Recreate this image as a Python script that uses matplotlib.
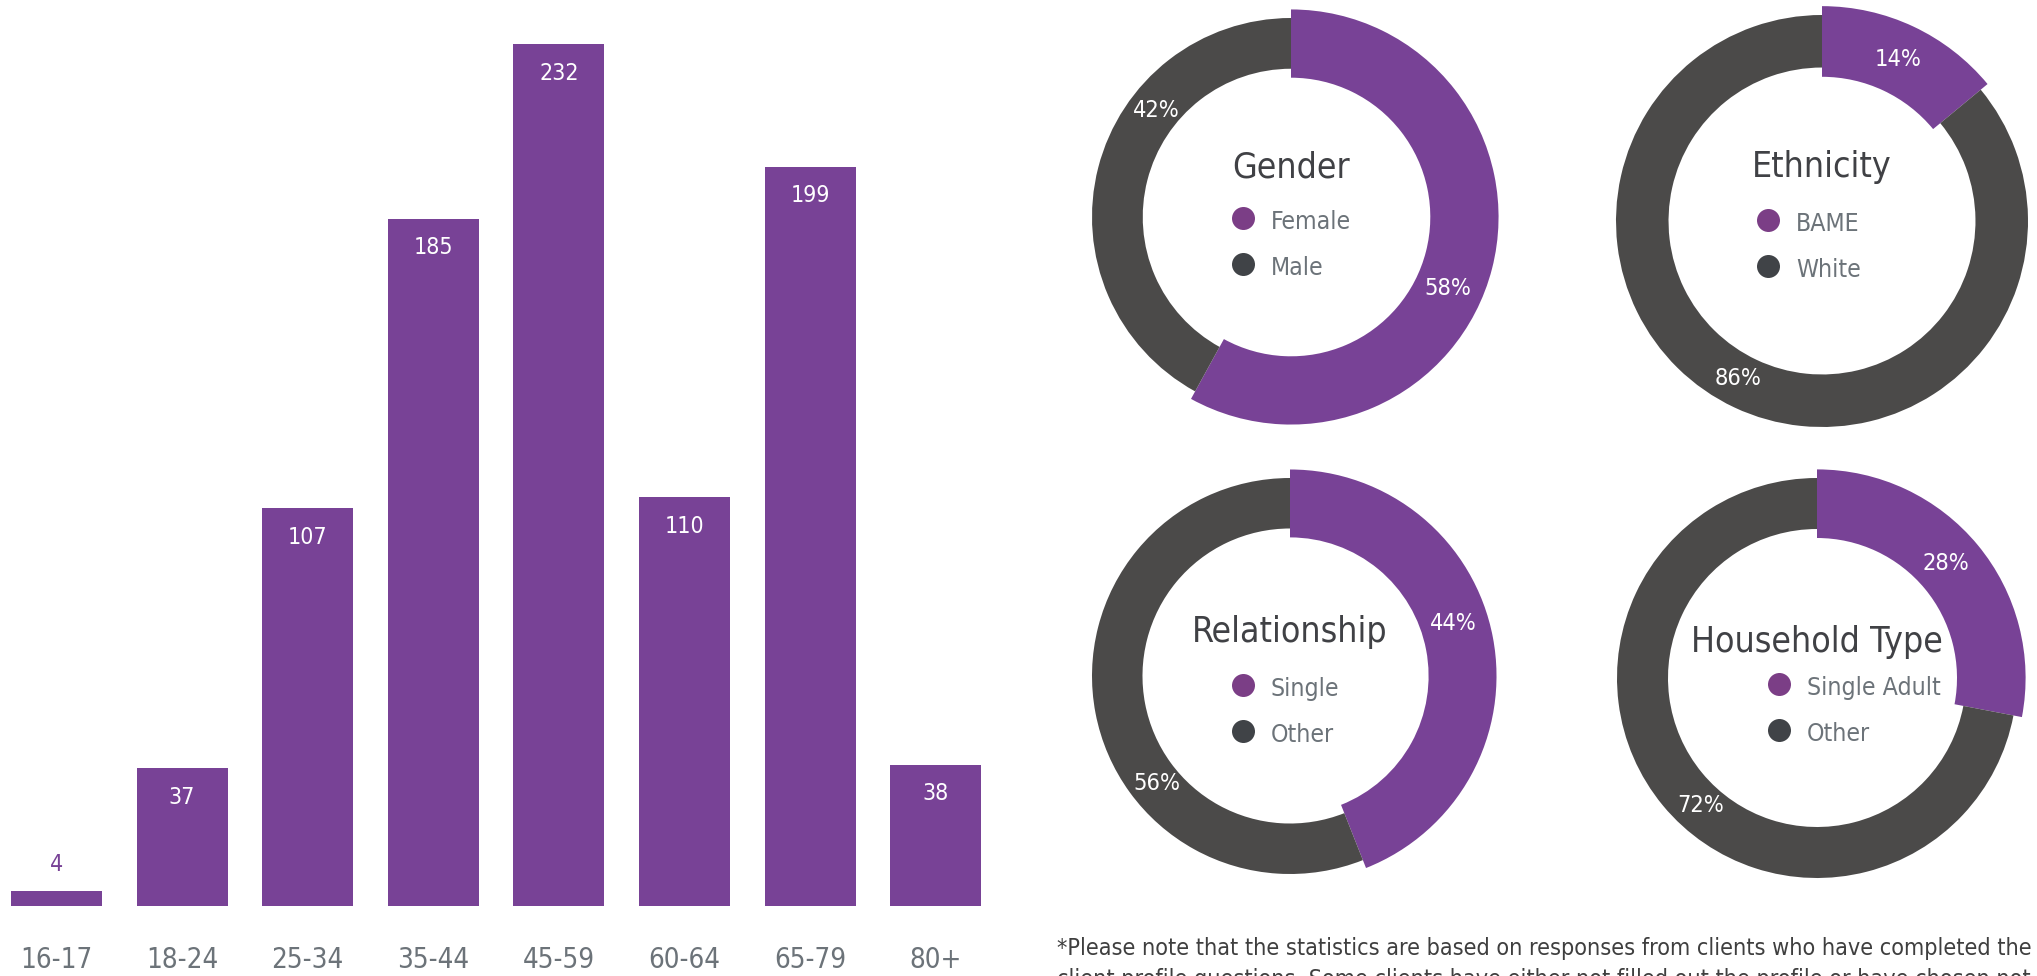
import matplotlib
matplotlib.use("Agg")
import matplotlib.pyplot as plt
import numpy as np

# ---- data -------------------------------------------------------------
age_groups = ["16-17", "18-24", "25-34", "35-44", "45-59", "60-64", "65-79", "80+"]
age_counts = [4, 37, 107, 185, 232, 110, 199, 38]

gender_labels = ["Female", "Male"]
gender_pct = [58, 42]
ethnicity_labels = ["BAME", "White"]
ethnicity_pct = [14, 86]
relationship_labels = ["Single", "Other"]
relationship_pct = [44, 56]
household_labels = ["Single Adult", "Other"]
household_pct = [28, 72]

note_lines = [
    "*Please note that the statistics are based on responses from clients who have completed the",
    "client profile questions. Some clients have either not filled out the profile or have chosen not",
]

# ---- styling ----------------------------------------------------------
W, H, DPI = 2037, 976, 100
PURPLE = "#784296"
RING_GREY = "#4b4a49"
KEY_PURPLE = "#7b3e86"
KEY_DARK = "#404347"
TITLE_COLOR = "#404145"
KEY_TEXT = "#6c7379"
TICK_COLOR = "#6c7379"
NOTE_COLOR = "#3f3f3f"

plt.rcParams["font.family"] = ["DejaVu Sans"]
plt.rcParams["font.stretch"] = "condensed"


def pt(pixels):
    """Convert a pixel length to points at the figure dpi."""
    return pixels * 72.0 / DPI


def fig_box(left, top, width, height):
    """Axes rectangle from pixel coordinates measured from the top-left."""
    return [left / W, 1 - (top + height) / H, width / W, height / H]


fig = plt.figure(figsize=(W / DPI, H / DPI), dpi=DPI)
fig.patch.set_facecolor("white")

# ---- age bar chart ----------------------------------------------------
base_px = 905.7          # pixel row of the bar baseline
px_per_unit = 3.714      # vertical scale
pitch = 125.6            # distance between bar centres
first_center = 56.5
bar_px = 91

ax = fig.add_axes(fig_box(0, 0, 1000, base_px))
x = np.arange(len(age_groups))
ax.bar(x, age_counts, width=bar_px / pitch, color=PURPLE, linewidth=0)
ax.set_xlim(-first_center / pitch, (1000 - first_center) / pitch)
ax.set_ylim(0, base_px / px_per_unit)
for s in ax.spines.values():
    s.set_visible(False)
ax.set_yticks([])
ax.set_xticks(x, age_groups)
ax.tick_params(axis="x", length=0, pad=pt(40), labelsize=pt(27.6),
               labelcolor=TICK_COLOR)
ax.set_facecolor("none")

for xi, v in zip(x, age_counts):
    if v >= 10:
        ax.annotate(str(v), (xi, v), xytext=(0, -pt(29)), textcoords="offset points",
                    ha="center", va="center", color="white", fontsize=pt(23))
    else:
        ax.annotate(str(v), (xi, v), xytext=(0, pt(26)), textcoords="offset points",
                    ha="center", va="center", color=PURPLE, fontsize=pt(23))

# ---- donut charts -----------------------------------------------------
donuts = [
    ("Gender", gender_labels, gender_pct,
     dict(c=(1291, 217), R=199, title_dy=-40, key_dx=-48, key_dy=1, shift=(10, 24))),
    ("Ethnicity", ethnicity_labels, ethnicity_pct,
     dict(c=(1822, 221), R=206, title_dy=-44, key_dx=-54, key_dy=-1, shift=(0, 3))),
    ("Relationship", relationship_labels, relationship_pct,
     dict(c=(1290, 676), R=198, title_dy=-34, key_dx=-47, key_dy=9, shift=(-7, -28))),
    ("Household Type", household_labels, household_pct,
     dict(c=(1817, 678), R=200, title_dy=-26, key_dx=-38, key_dy=6, shift=(-2, -8))),
]

HALF = 235
INNER = 0.745           # inner radius of the grey ring, relative to R
HI_OUT, HI_IN = 1.043, 0.70   # highlighted slice radii, relative to R
KEY_GAP = 46

for title, labels, pct, lay in donuts:
    cx, cy = lay["c"]
    R = lay["R"]
    axd = fig.add_axes(fig_box(cx - HALF, cy - HALF, 2 * HALF, 2 * HALF))
    wedges, _ = axd.pie(pct, colors=[PURPLE, RING_GREY], startangle=90,
                        counterclock=False, radius=R,
                        wedgeprops=dict(width=R * (1 - INNER), linewidth=0))
    wedges[0].set_radius(R * HI_OUT)
    wedges[0].set_width(R * (HI_OUT - HI_IN))
    axd.set_xlim(-HALF, HALF)
    axd.set_ylim(-HALF, HALF)
    axd.set_aspect("equal")
    axd.axis("off")

    # percentage labels along the ring
    cum = 0.0
    rl = 0.865 * R
    for p, sh in zip(pct, lay["shift"]):
        theta = np.deg2rad(360.0 * (cum + p / 2.0) / 100.0 + sh)
        axd.text(rl * np.sin(theta), rl * np.cos(theta), f"{p}%", ha="center",
                 va="center", color="white", fontsize=pt(23.5))
        cum += p

    # centre title and key
    axd.text(0, -lay["title_dy"], title, ha="center", va="baseline",
             color=TITLE_COLOR, fontsize=pt(35.5))
    for i, (lab, col) in enumerate(zip(labels, [KEY_PURPLE, KEY_DARK])):
        ky = -(lay["key_dy"] + i * KEY_GAP)
        axd.scatter([lay["key_dx"]], [ky], s=pt(23) ** 2, color=col, linewidths=0)
        axd.text(lay["key_dx"] + 28, ky - 11, lab, ha="left", va="baseline",
                 color=KEY_TEXT, fontsize=pt(24.8))

# ---- footnote ---------------------------------------------------------
for i, line in enumerate(note_lines):
    fig.text(1057 / W, 1 - (955 + 31 * i) / H, line, ha="left", va="baseline",
             color=NOTE_COLOR, fontsize=pt(23.3))

fig.savefig("out.png", dpi=DPI, facecolor="white")
